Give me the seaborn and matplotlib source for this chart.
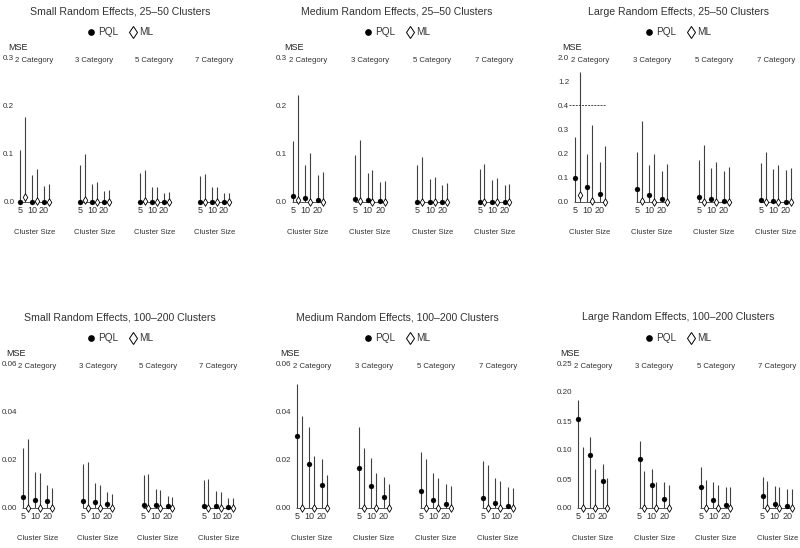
import numpy as np
import pandas as pd
import matplotlib
matplotlib.use("Agg")
import matplotlib.pyplot as plt
import seaborn as sns
from matplotlib.lines import Line2D

sns.set_theme(style="white")
plt.rcParams["font.family"] = ["Liberation Sans", "DejaVu Sans"]

# ---------------- data ----------------
categories = ["2 Category", "3 Category", "5 Category", "7 Category"]
sizes = [5, 10, 20]
methods = ["PQL", "ML"]

# values ordered: category-major, cluster-size-minor (2:5,10,20 | 3:5,10,20 | ...)
small_25_pql_mse = [0.001, 0.001, 0.001, 0.001, 0.001, 0.001, 0.0005, 0.0005, 0.0005, 0.0005, 0.0005, 0.0005]
small_25_pql_upper = [0.107, 0.055, 0.034, 0.077, 0.038, 0.023, 0.060, 0.030, 0.019, 0.053, 0.030, 0.019]
small_25_ml_mse = [0.010, 0.003, 0.001, 0.005, 0.001, 0.001, 0.002, 0.001, 0.001, 0.001, 0.001, 0.001]
small_25_ml_upper = [0.176, 0.068, 0.037, 0.100, 0.041, 0.025, 0.066, 0.032, 0.021, 0.058, 0.030, 0.019]

medium_25_pql_mse = [0.012, 0.008, 0.004, 0.007, 0.004, 0.002, 0.001, 0.001, 0.001, 0.001, 0.001, 0.001]
medium_25_pql_upper = [0.127, 0.077, 0.055, 0.097, 0.059, 0.042, 0.076, 0.048, 0.036, 0.069, 0.046, 0.035]
medium_25_ml_mse = [0.004, 0.001, 0.001, 0.002, 0.001, 0.001, 0.001, 0.001, 0.001, 0.001, 0.001, 0.001]
medium_25_ml_upper = [0.222, 0.101, 0.062, 0.128, 0.066, 0.043, 0.094, 0.052, 0.039, 0.079, 0.049, 0.037]

large_25_pql_mse = [0.099, 0.064, 0.033, 0.055, 0.027, 0.012, 0.019, 0.011, 0.004, 0.009, 0.004, 0.002]
large_25_pql_upper = [0.270, 0.200, 0.166, 0.208, 0.155, 0.129, 0.173, 0.139, 0.128, 0.162, 0.136, 0.132]
large_25_ml_mse = [0.030, 0.003, 0.001, 0.003, 0.001, 0.001, 0.001, 0.001, 0.001, 0.001, 0.001, 0.001]
large_25_ml_upper = [1.52, 0.320, 0.233, 0.334, 0.200, 0.156, 0.234, 0.165, 0.146, 0.205, 0.152, 0.140]

small_100_pql_mse = [0.0044, 0.0034, 0.0027, 0.0029, 0.0023, 0.0015, 0.0014, 0.0012, 0.0008, 0.0010, 0.0009, 0.0006]
small_100_pql_upper = [0.0248, 0.0150, 0.0095, 0.0184, 0.0102, 0.0065, 0.0136, 0.0079, 0.0048, 0.0116, 0.0071, 0.0042]
small_100_ml_mse = [0.0001] * 12
small_100_ml_upper = [0.0286, 0.0146, 0.0082, 0.0190, 0.0095, 0.0059, 0.0139, 0.0075, 0.0044, 0.0120, 0.0067, 0.0042]

medium_100_pql_mse = [0.0299, 0.0183, 0.0095, 0.0164, 0.0090, 0.0044, 0.0069, 0.0033, 0.0015, 0.0040, 0.0021, 0.0008]
medium_100_pql_upper = [0.0514, 0.0334, 0.0204, 0.0334, 0.0207, 0.0130, 0.0230, 0.0145, 0.0099, 0.0196, 0.0123, 0.0086]
medium_100_ml_mse = [0.0001] * 12
medium_100_ml_upper = [0.0382, 0.0217, 0.0138, 0.0250, 0.0145, 0.0099, 0.0203, 0.0126, 0.0092, 0.0179, 0.0112, 0.0083]

large_100_pql_mse = [0.153, 0.092, 0.046, 0.085, 0.039, 0.015, 0.037, 0.014, 0.005, 0.020, 0.007, 0.0035]
large_100_pql_upper = [0.186, 0.122, 0.076, 0.115, 0.067, 0.045, 0.070, 0.045, 0.036, 0.054, 0.038, 0.032]
large_100_ml_mse = [0.0005] * 12
large_100_ml_upper = [0.106, 0.067, 0.052, 0.063, 0.045, 0.039, 0.049, 0.039, 0.036, 0.047, 0.036, 0.033]

titles = [
    "Small Random Effects, 25\u201350 Clusters",
    "Medium Random Effects, 25\u201350 Clusters",
    "Large Random Effects, 25\u201350 Clusters",
    "Small Random Effects, 100\u2013200 Clusters",
    "Medium Random Effects, 100\u2013200 Clusters",
    "Large Random Effects, 100\u2013200 Clusters",
]
ytick_sets = [
    [0.0, 0.1, 0.2, 0.3],
    [0.0, 0.1, 0.2, 0.3],
    [0.0, 0.1, 0.2, 0.3, 0.4, 1.2, 2.0],
    [0.00, 0.02, 0.04, 0.06],
    [0.00, 0.02, 0.04, 0.06],
    [0.00, 0.05, 0.10, 0.15, 0.20, 0.25],
]
ytick_fmt = ["{:.1f}", "{:.1f}", "{:.1f}", "{:.2f}", "{:.2f}", "{:.2f}"]

panel_data = [
    (small_25_pql_mse, small_25_pql_upper, small_25_ml_mse, small_25_ml_upper),
    (medium_25_pql_mse, medium_25_pql_upper, medium_25_ml_mse, medium_25_ml_upper),
    (large_25_pql_mse, large_25_pql_upper, large_25_ml_mse, large_25_ml_upper),
    (small_100_pql_mse, small_100_pql_upper, small_100_ml_mse, small_100_ml_upper),
    (medium_100_pql_mse, medium_100_pql_upper, medium_100_ml_mse, medium_100_ml_upper),
    (large_100_pql_mse, large_100_pql_upper, large_100_ml_mse, large_100_ml_upper),
]

# ---------------- layout (pixels) ----------------
W, H = 800, 548
CAT_SP = 5.0
ML_OFF = 0.38
XL, XR = -0.3, 17.7
TXT = "#333333"

# (x of first point, pixels per unit, top px, bottom px, title center x, title y, legend y, MSE x offset)
layout = [
    (20, 12.0, 57, 202, 120, 12, 32, 12),
    (293, 12.45, 57, 202, 397, 12, 32, 9),
    (575, 12.4, 57, 202, 678, 12, 32, 13),
    (23, 12.06, 363, 508, 120, 317, 338, 17),
    (297, 12.4, 363, 508, 397, 317, 338, 17),
    (578, 12.3, 363, 508, 678, 317, 338, 18),
]


def fwd(v):
    v = np.asarray(v, dtype=float)
    return np.where(v <= 0.4, v, 0.4 + (v - 0.4) / 8.0)


def inv(u):
    u = np.asarray(u, dtype=float)
    return np.where(u <= 0.4, u, 0.4 + (u - 0.4) * 8.0)


fig = plt.figure(figsize=(W / 100, H / 100), dpi=100)
fig.patch.set_facecolor("white")

legend_handles = [
    Line2D([], [], marker="o", ls="", color="black", markersize=3.8),
    Line2D([], [], marker="d", ls="", markerfacecolor="white", markeredgecolor="black",
           markeredgewidth=0.7, markersize=6),
]

for p, (data, lay) in enumerate(zip(panel_data, layout)):
    pql_mse, pql_up, ml_mse, ml_up = data
    px0, ppu, top, bot, tcx, ty, ly, mse_off = lay
    left = px0 + XL * ppu
    width = (XR - XL) * ppu
    ax = fig.add_axes([left / W, 1 - bot / H, width / W, (bot - top) / H])
    ax.set_facecolor("white")

    rows = []
    for ci, cat in enumerate(categories):
        for si, s in enumerate(sizes):
            k = ci * 3 + si
            base = ci * CAT_SP + si
            rows.append(dict(category=cat, size=s, method="PQL", x=base, mse=pql_mse[k], upper=pql_up[k]))
            rows.append(dict(category=cat, size=s, method="ML", x=base + ML_OFF, mse=ml_mse[k], upper=ml_up[k]))
    df = pd.DataFrame(rows)

    if p == 2:
        ax.set_yscale("function", functions=(fwd, inv))

    ax.vlines(df["x"], 0, df["upper"], color="#404040", lw=0.8, clip_on=False, zorder=1)
    for ci in range(len(categories)):
        ax.hlines(0, ci * CAT_SP - 0.05, ci * CAT_SP + 2 + ML_OFF + 0.05, color="#555555",
                  lw=0.7, clip_on=False, zorder=1)
    if p == 2:
        ax.hlines(0.4, XL - 0.2, 2 + ML_OFF, color="#444444", lw=0.7, linestyles=(0, (2.0, 1.2)),
                  clip_on=False, zorder=1)

    pql = df[df["method"] == "PQL"]
    ml = df[df["method"] == "ML"]
    sns.scatterplot(data=pql, x="x", y="mse", ax=ax, marker="o", s=13, color="black",
                    edgecolor="black", linewidth=0.2, legend=False, clip_on=False, zorder=3)
    sns.scatterplot(data=ml, x="x", y="mse", ax=ax, marker="d", s=15, color="white",
                    edgecolor="black", linewidth=0.6, legend=False, clip_on=False, zorder=3)

    yt = ytick_sets[p]
    ax.set_ylim(yt[0], yt[-1])
    ax.set_xlim(XL, XR)
    ax.set_yticks(yt)
    ax.set_yticklabels([ytick_fmt[p].format(v) for v in yt])
    xt = [ci * CAT_SP + si for ci in range(len(categories)) for si in range(len(sizes))]
    ax.set_xticks(xt)
    ax.set_xticklabels([str(s) for _ in categories for s in sizes])
    ax.tick_params(axis="both", length=0, labelcolor=TXT)
    ax.tick_params(axis="y", pad=1.5, labelsize=5.8)
    ax.tick_params(axis="x", pad=3, labelsize=6.5)
    ax.set_xlabel("")
    ax.set_ylabel("")
    for sp in ax.spines.values():
        sp.set_visible(False)
    ax.grid(False)

    hgt = bot - top
    trans = ax.get_xaxis_transform()
    for ci, cat in enumerate(categories):
        cx = ci * CAT_SP + (2 + ML_OFF) / 2
        ax.text(cx, (bot - (top + 3)) / hgt, cat, transform=trans, ha="center", va="center",
                fontsize=5.6, color=TXT)
        ax.text(cx, -31 / hgt, "Cluster Size", transform=trans, ha="center", va="center",
                fontsize=5.5, color=TXT)

    fig.text((px0 - mse_off) / W, 1 - (top - 10) / H, "MSE", ha="left", va="center",
             fontsize=6.5, color="#222222")
    fig.text(tcx / W, 1 - ty / H, titles[p], ha="center", va="center", fontsize=7.6, color=TXT)
    fig.legend(legend_handles, methods, loc="center", bbox_to_anchor=(tcx / W, 1 - ly / H),
               ncol=2, frameon=False, fontsize=7.2, handletextpad=0.2, columnspacing=1.0,
               handlelength=0.9, labelcolor=TXT, borderpad=0)

fig.savefig("out.png", dpi=100, facecolor="white")
